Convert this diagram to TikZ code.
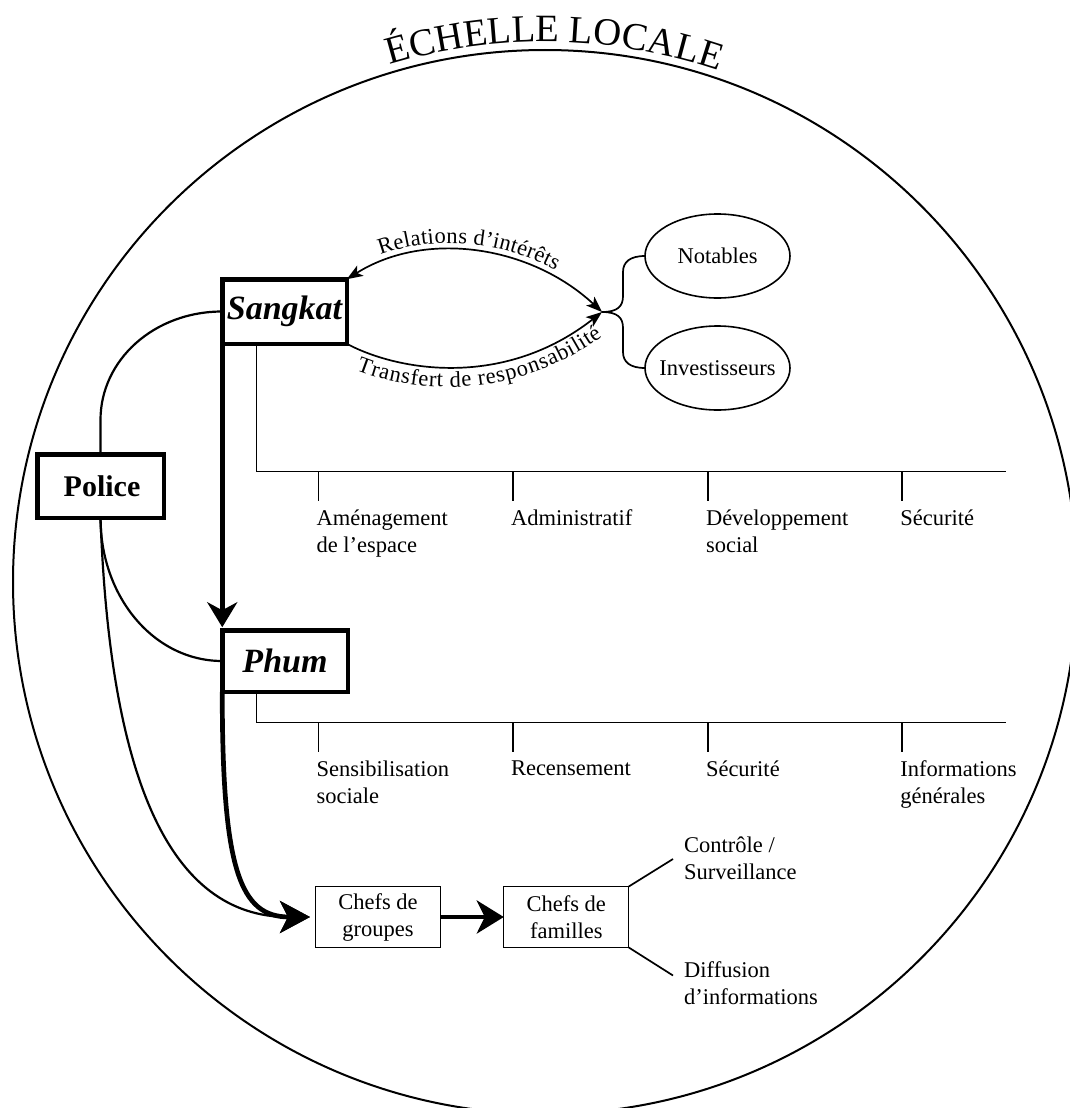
\documentclass[tikz,border=0pt]{standalone}
\usepackage{fontspec}
\setmainfont{Liberation Serif}
\usetikzlibrary{arrows.meta,shapes.geometric,decorations.text}

\newcommand{\lblsize}{\fontsize{22.5}{27}\selectfont}
\newcommand{\keysize}{\fontsize{34}{40}\selectfont\bfseries\itshape}
\newcommand{\policesize}{\fontsize{30}{36}\selectfont\bfseries}
\newcommand{\titlesize}{\fontsize{38.7}{46}\selectfont}

\tikzset{smalltip/.tip={Stealth[length=16pt,width=12pt,inset=4pt]}}

\begin{document}
\begin{tikzpicture}[x=1pt,y=-1pt,
  keybox/.style={draw, line width=4.5pt, inner sep=0pt, outer sep=0pt, font=\keysize},
  smallbox/.style={draw, line width=1.3pt, inner sep=0pt, outer sep=0pt,
    minimum width=125pt, minimum height=61pt, align=center, font=\lblsize},
  ell/.style={draw, ellipse, line width=1.6pt, inner sep=0pt, outer sep=0pt,
    minimum width=145pt, minimum height=84pt, font=\lblsize},
  lbl/.style={anchor=north west, inner sep=0pt, align=left, font=\lblsize},
  link/.style={line width=2.2pt},
  heavy/.style={line width=4.7pt},
  branch/.style={line width=1.8pt},
  rel/.style={line width=1.7pt},
  bigtip/.style={-{Stealth[length=30pt,width=32pt,inset=8pt]}}
]
\useasboundingbox (0,0) rectangle (1070,1108);
\clip (0,0) rectangle (1070,1108);

% outer circle and its title
\draw[line width=2pt] (545,582) circle[radius=532];
\path[decorate, decoration={text along path, text={|\titlesize|ÉCHELLE LOCALE}, text align=center}]
  (545,582) ++(181:540) arc[start angle=181, end angle=361, radius=540];

% main nodes
\node[keybox, minimum width=124.5pt, minimum height=64.5pt] (sangkat) at (284.5,311.5) {Sangkat};
\node[keybox, minimum width=125.5pt, minimum height=61.5pt] (phum) at (285,661) {Phum};
\node[keybox, font=\policesize, minimum width=126.5pt, minimum height=63.5pt] (police) at (100.5,486) {\hspace*{3pt}Police};
\node[smallbox] (groupes) at (378,917) {Chefs de\\groupes};
\node[smallbox] (familles) at (566.3,917) {Chefs de\\familles};
\node[ell] (notables) at (717.5,256) {\makebox[0pt]{Notables}};
\node[ell] (invest) at (717.5,368) {\makebox[0pt]{Investisseurs}};

\coordinate (junction) at (602,312);
\coordinate (gtip) at (310,917);

% hierarchy connectors
\draw[heavy, -{Stealth[length=25pt,width=30pt,inset=8pt]}, shorten >=3pt]
  (sangkat.south west) -- (phum.north west);
\draw[link] (sangkat.west) .. controls (154,311.5) and (100.5,360) .. (100.5,420) -- (police.north);
\draw[link] (police.south) .. controls (100.5,597) and (154,661) .. (phum.west);
\draw[link, bigtip] (police.south) .. controls (110,780) and (170,917) .. (gtip);
\draw[heavy, bigtip] (phum.south west) .. controls (222.25,870) and (240,917) .. (gtip);
\draw[heavy, -{Stealth[length=27pt,width=33pt,inset=8pt]}] (groupes.east) -- (familles.west);

% relations with notables and investors
\draw[rel, smalltip-smalltip] (sangkat.north east) .. controls (425,230) and (530,245) .. (junction);
\draw[rel, -smalltip] (sangkat.south east) .. controls (400,372) and (505,388) .. (junction);
\path[decorate, decoration={text along path, text={|\lblsize|Relations d’intérêts},
    text align={left indent=40pt}, raise=7pt}]
  (sangkat.north east) .. controls (425,230) and (530,245) .. (junction);
\path[decorate, decoration={text along path, text={|\lblsize|Transfert de responsabilité},
    text align={left indent=18pt}, raise=-20pt}]
  (sangkat.south east) .. controls (400,372) and (505,388) .. (junction);
\draw[rel] (junction) .. controls (618,312) and (623,306) .. (623,296) -- (623,272)
  .. controls (623,262) and (630,256) .. (notables.west);
\draw[rel] (junction) .. controls (618,312) and (623,318) .. (623,328) -- (623,352)
  .. controls (623,362) and (630,368) .. (invest.west);

% Sangkat competences
\coordinate (sbus) at (1005.6,471.5);
\draw[branch] ([xshift=34.25pt]sangkat.south west) |- (sbus);
\node[lbl] (s1) at (316.4,509.8) {Aménagement\\de l’espace};
\node[lbl] (s2) at (510.8,509.8) {Administratif};
\node[lbl] (s3) at (705.8,509.8) {Développement\\social};
\node[lbl] (s4) at (900.2,509.8) {Sécurité};
\foreach \n in {s1,s2,s3,s4}
  \draw[branch] ([xshift=2pt]\n.north west |- sbus) -- ([xshift=2pt,yshift=8.8pt]\n.north west);

% Phum competences
\coordinate (pbus) at (1005.6,722.5);
\draw[branch] ([xshift=34.25pt]phum.south west) |- (pbus);
\node[lbl] (p1) at (316.4,760.6) {Sensibilisation\\sociale};
\node[lbl] (p2) at (510.8,760.6) {Recensement};
\node[lbl] (p3) at (705.8,760.6) {Sécurité};
\node[lbl] (p4) at (900.2,760.6) {Informations\\générales};
\foreach \n in {p1,p2,p3,p4}
  \draw[branch] ([xshift=2pt]\n.north west |- pbus) -- ([xshift=2pt,yshift=8.6pt]\n.north west);

% roles of family heads
\node[lbl] (ctrl) at (684,837) {Contrôle /\\Surveillance};
\node[lbl] (diff) at (684,961.5) {Diffusion\\d’informations};
\draw[rel] (familles.north east) -- ([xshift=-11pt,yshift=-22pt]ctrl.north west);
\draw[rel] (familles.south east) -- ([xshift=-11pt,yshift=-14pt]diff.north west);
\end{tikzpicture}
\end{document}
